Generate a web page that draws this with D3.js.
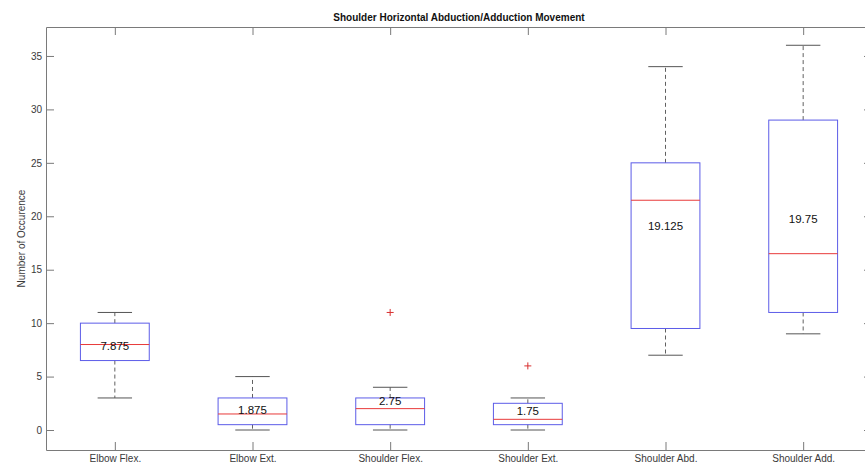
<!DOCTYPE html>
<html>
<head>
<meta charset="utf-8">
<script src="https://cdn.jsdelivr.net/npm/d3@7"></script>
<style>
  html, body { margin: 0; padding: 0; background: #fff; }
  svg { display: block; font-family: "Liberation Sans", Arial, sans-serif; }
</style>
</head>
<body>
<svg id="chart" width="865" height="464"></svg>
<script>
// Movement categories along the x axis
const categories = ["Elbow Flex.", "Elbow Ext.", "Shoulder Flex.", "Shoulder Ext.", "Shoulder Abd.", "Shoulder Add."];
// Five-number summaries (whisker ends, quartiles, median)
const whiskerLow  = [3, 0, 0, 0, 7, 9];
const q1          = [6.5, 0.5, 0.5, 0.5, 9.5, 11];
const medians     = [8, 1.5, 2, 1, 21.5, 16.5];
const q3          = [10, 3, 3, 2.5, 25, 29];
const whiskerHigh = [11, 5, 4, 3, 34, 36];
// Outliers: [category index, value]
const outliers = [[2, 11], [3, 6]];
// Mean values written inside each box
const means = [7.875, 1.875, 2.75, 1.75, 19.125, 19.75];
const yTicks = [0, 5, 10, 15, 20, 25, 30, 35];

const svg = d3.select("#chart");
const plotLeft = 46, plotRight = 872, plotTop = 27, plotBottom = 450;

const x = d3.scaleLinear().domain([0.5, 6.5]).range([plotLeft, plotRight]);
const y = d3.scaleLinear().domain([-1.87, 37.71]).range([plotBottom, plotTop]);

const axisColor = "#7a7a7a";
const labelColor = "#3a3a3a";

function styleAxis(g) {
  g.selectAll("path.domain").attr("stroke", axisColor).attr("stroke-width", 1);
  g.selectAll(".tick line").attr("stroke", axisColor).attr("stroke-width", 1);
  g.selectAll(".tick text").attr("fill", labelColor).style("font-size", "10px")
    .style("font-family", "'Liberation Sans', Arial, sans-serif");
}

const xTickVals = categories.map((_, i) => i + 1);

// Bottom axis with category labels
svg.append("g").attr("transform", `translate(0,${plotBottom})`)
  .call(d3.axisBottom(x).tickValues(xTickVals).tickFormat((d) => categories[d - 1])
    .tickSizeInner(-8).tickSizeOuter(0).tickPadding(5))
  .call(styleAxis);

// Top frame with ticks
svg.append("g").attr("transform", `translate(0,${plotTop})`)
  .call(d3.axisTop(x).tickValues(xTickVals).tickFormat("").tickSizeInner(-8).tickSizeOuter(0))
  .call(styleAxis);

// Left axis with numeric labels
svg.append("g").attr("transform", `translate(${plotLeft},0)`)
  .call(d3.axisLeft(y).tickValues(yTicks).tickSizeInner(-8).tickSizeOuter(0).tickPadding(4))
  .call(styleAxis);

// Right frame with ticks
svg.append("g").attr("transform", `translate(${plotRight},0)`)
  .call(d3.axisRight(y).tickValues(yTicks).tickFormat("").tickSizeInner(-8).tickSizeOuter(0))
  .call(styleAxis);

// Title
svg.append("text")
  .attr("x", (plotLeft + plotRight) / 2).attr("y", 21)
  .attr("text-anchor", "middle")
  .style("font-size", "10px").style("font-weight", "bold").attr("fill", "#111")
  .text("Shoulder Horizontal Abduction/Adduction Movement");

// Y axis title
svg.append("text")
  .attr("transform", `translate(25,${(plotTop + plotBottom) / 2}) rotate(-90)`)
  .attr("text-anchor", "middle")
  .style("font-size", "10px").attr("fill", labelColor)
  .text("Number of Occurence");

const boxHalf = 0.25, capHalf = 0.125;
const boxes = svg.append("g");

categories.forEach((c, i) => {
  const p = i + 1;
  const g = boxes.append("g");
  // whiskers (dashed)
  g.append("line")
    .attr("x1", x(p)).attr("x2", x(p)).attr("y1", y(q3[i])).attr("y2", y(whiskerHigh[i]))
    .attr("stroke", "#606060").attr("stroke-dasharray", "4,3");
  g.append("line")
    .attr("x1", x(p)).attr("x2", x(p)).attr("y1", y(q1[i])).attr("y2", y(whiskerLow[i]))
    .attr("stroke", "#606060").attr("stroke-dasharray", "4,3");
  // whisker caps
  [whiskerHigh[i], whiskerLow[i]].forEach((v) => {
    g.append("line")
      .attr("x1", x(p - capHalf)).attr("x2", x(p + capHalf))
      .attr("y1", y(v)).attr("y2", y(v))
      .attr("stroke", "#555");
  });
  // box
  g.append("rect")
    .attr("x", x(p - boxHalf)).attr("y", y(q3[i]))
    .attr("width", x(p + boxHalf) - x(p - boxHalf))
    .attr("height", y(q1[i]) - y(q3[i]))
    .attr("fill", "none").attr("stroke", "#5c5ce8").attr("stroke-width", 1);
  // median
  g.append("line")
    .attr("x1", x(p - boxHalf)).attr("x2", x(p + boxHalf))
    .attr("y1", y(medians[i])).attr("y2", y(medians[i]))
    .attr("stroke", "#e83a3a");
  // mean label
  g.append("text")
    .attr("x", x(p)).attr("y", y(means[i]))
    .attr("text-anchor", "middle").attr("dominant-baseline", "central")
    .style("font-size", "11.5px").attr("fill", "#111")
    .text(String(means[i]));
});

// Outlier markers
outliers.forEach(([i, v]) => {
  const cx = x(i + 1), cy = y(v);
  boxes.append("path")
    .attr("d", `M${cx - 3.5},${cy}H${cx + 3.5}M${cx},${cy - 3.5}V${cy + 3.5}`)
    .attr("stroke", "#d83030").attr("fill", "none");
});
</script>
</body>
</html>
